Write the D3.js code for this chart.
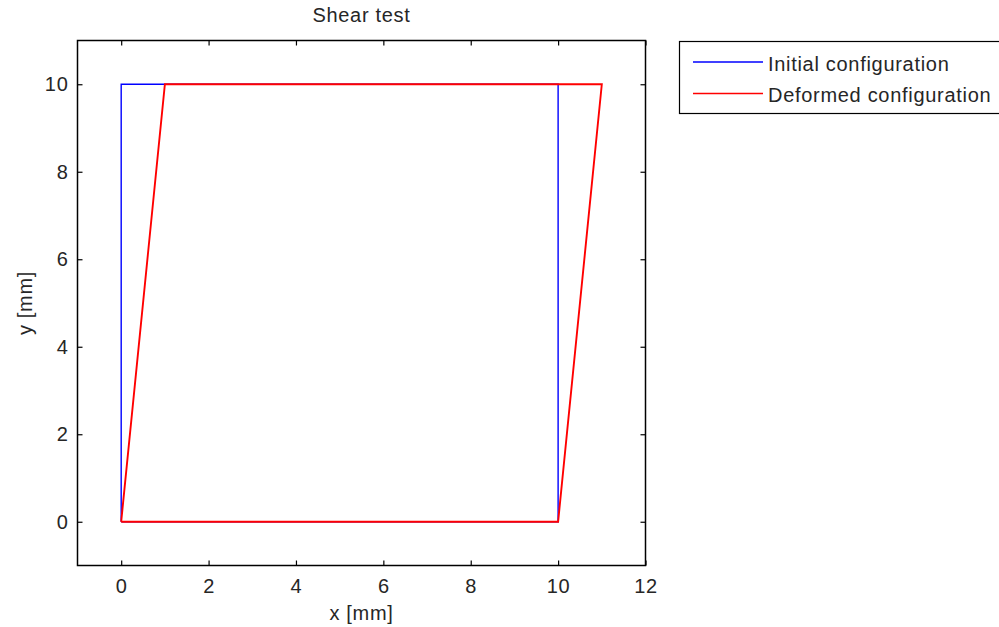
<!DOCTYPE html>
<html>
<head>
<meta charset="utf-8">
<script src="https://cdn.jsdelivr.net/npm/d3@7"></script>
<style>
  html, body { margin: 0; padding: 0; background: #fff; }
  svg { display: block; font-family: "Liberation Sans", Arial, sans-serif; }
</style>
</head>
<body>
<script>
// Node coordinates of the specimen outline (closed polygons)
const initialX = [0, 10, 10, 0, 0];
const initialY = [0, 0, 10, 10, 0];
const deformedX = [0, 10, 11, 1, 0];
const deformedY = [0, 0, 10, 10, 0];

const xTicks = [0, 2, 4, 6, 8, 10, 12];
const yTicks = [0, 2, 4, 6, 8, 10];
const xDomain = [-1, 12];
const yDomain = [-1, 11];

const seriesNames = ["Initial configuration", "Deformed configuration"];
const seriesColors = ["#0000ff", "#ff0000"];
const seriesWidths = [1.4, 1.9];

const W = 999, H = 627;
const plot = { left: 77.5, right: 645.5, top: 40.5, bottom: 565.5 };
const fontSize = 20;
const spacing = "0.7px";
const textColor = "#262626";

const svg = d3.select("body").append("svg").attr("width", W).attr("height", H);

const x = d3.scaleLinear().domain(xDomain).range([plot.left, plot.right]);
const y = d3.scaleLinear().domain(yDomain).range([plot.bottom, plot.top]);

// Outline polygons (deformed drawn last, on top)
const line = d3.line().x(d => x(d[0])).y(d => y(d[1]));
const series = [
  d3.zip(initialX, initialY),
  d3.zip(deformedX, deformedY)
];
svg.append("g").selectAll("path").data(series).join("path")
  .attr("d", d => line(d))
  .attr("fill", "none")
  .attr("stroke", (d, i) => seriesColors[i])
  .attr("stroke-width", (d, i) => seriesWidths[i]);

// Axes box with inward ticks on all four sides
const tickLen = 5;
function styleAxis(g) {
  g.select(".domain").remove();
  g.selectAll(".tick line").attr("stroke", "#000").attr("stroke-width", 1.2);
  g.selectAll(".tick text").attr("fill", textColor).attr("font-size", fontSize)
    .attr("letter-spacing", spacing)
    .attr("font-family", "Liberation Sans, Arial, sans-serif");
}
svg.append("g").attr("transform", `translate(0,${plot.bottom})`)
  .call(d3.axisBottom(x).tickValues(xTicks).tickSizeInner(-tickLen).tickSizeOuter(0).tickPadding(13))
  .call(styleAxis);
svg.append("g").attr("transform", `translate(0,${plot.top})`)
  .call(d3.axisTop(x).tickValues(xTicks).tickSizeInner(-tickLen).tickSizeOuter(0).tickFormat(""))
  .call(styleAxis);
svg.append("g").attr("transform", `translate(${plot.left},0)`)
  .call(d3.axisLeft(y).tickValues(yTicks).tickSizeInner(-tickLen).tickSizeOuter(0).tickPadding(9))
  .call(styleAxis);
svg.append("g").attr("transform", `translate(${plot.right},0)`)
  .call(d3.axisRight(y).tickValues(yTicks).tickSizeInner(-tickLen).tickSizeOuter(0).tickFormat(""))
  .call(styleAxis);

svg.append("rect")
  .attr("x", plot.left).attr("y", plot.top)
  .attr("width", plot.right - plot.left).attr("height", plot.bottom - plot.top)
  .attr("fill", "none").attr("stroke", "#000").attr("stroke-width", 1.5);

// Title and axis labels
const cx = (plot.left + plot.right) / 2;
function label(sel) {
  return sel.attr("text-anchor", "middle").attr("font-size", fontSize)
    .attr("letter-spacing", spacing).attr("fill", textColor);
}
svg.append("text").attr("x", cx).attr("y", 22).call(label).text("Shear test");
svg.append("text").attr("x", cx).attr("y", 620).call(label).text("x [mm]");
svg.append("text").attr("transform", `translate(32,${(plot.top + plot.bottom) / 2}) rotate(-90)`)
  .call(label).text("y [mm]");

// Legend
const lg = svg.append("g");
lg.append("rect").attr("x", 679.5).attr("y", 41.5).attr("width", 330).attr("height", 72)
  .attr("fill", "#fff").attr("stroke", "#000").attr("stroke-width", 1.2);
seriesNames.forEach((name, i) => {
  const ly = 62 + i * 31.5;
  lg.append("line").attr("x1", 693).attr("x2", 763).attr("y1", ly).attr("y2", ly)
    .attr("stroke", seriesColors[i]).attr("stroke-width", 1.5);
  lg.append("text").attr("x", 768).attr("y", ly + 8.5).attr("font-size", fontSize)
    .attr("letter-spacing", spacing).attr("fill", textColor).text(name);
});
</script>
</body>
</html>
